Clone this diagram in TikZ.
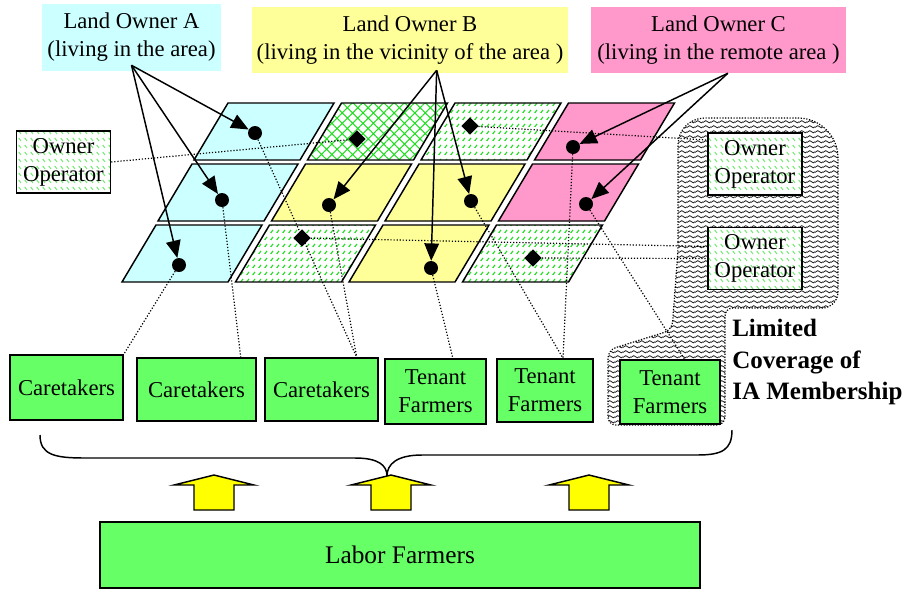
\documentclass[tikz,border=0pt]{standalone}
\usepackage{fontspec}
\setmainfont{Liberation Serif}
\usetikzlibrary{arrows.meta,shapes.geometric,patterns.meta}

\definecolor{areacyan}{HTML}{CCFFFF}
\definecolor{areayellow}{HTML}{FFFF99}
\definecolor{areapink}{HTML}{FF99CC}
\definecolor{farmgreen}{HTML}{66FF66}
\definecolor{hatchgreen}{HTML}{22DD22}
\definecolor{arrowyellow}{HTML}{FFFF00}

% short green dashes in rows
\tikzdeclarepattern{name=dashrows, type=colored,
  bounding box={(0pt,0pt) and (4.5pt,5.25pt)}, tile size={(4.5pt,5.25pt)},
  code={\draw[hatchgreen, line width=1pt] (0.6pt,0.9pt) -- (2.6pt,3.4pt);}}
\tikzdeclarepattern{name=dashrowsb, type=colored,
  bounding box={(0pt,0pt) and (4.5pt,5.25pt)}, tile size={(4.5pt,5.25pt)},
  code={\draw[hatchgreen!60, line width=0.9pt] (0.6pt,3.4pt) -- (2.6pt,0.9pt);}}
% wavy lines for the membership zone
\tikzdeclarepattern{name=wavy, type=colored,
  bounding box={(0pt,0pt) and (6pt,3.9pt)}, tile size={(6pt,3.9pt)},
  code={\draw[black!85, line width=0.7pt] (0pt,1.95pt) sin (1.5pt,2.85pt) cos (3pt,1.95pt) sin (4.5pt,1.05pt) cos (6pt,1.95pt);}}

\begin{document}
\begin{tikzpicture}
        [x=0.75pt, y=-0.75pt,
         field/.style={line width=1.1pt, line join=miter},
         fieldcyan/.style={field, fill=areacyan},
         fieldyellow/.style={field, fill=areayellow},
         fieldpink/.style={field, fill=areapink},
         fieldhatch/.style={field, pattern=dashrows},
         fieldcross/.style={field, pattern={Hatch[angle=45,distance=5.5pt,line width=0.8pt]}, pattern color=hatchgreen},
         tenanted/.style={circle, fill=black, minimum size=10.5pt, inner sep=0pt},
         selfrun/.style={diamond, fill=black, minimum size=13pt, inner sep=0pt},
         owner/.style={align=center, inner sep=0pt, font=\fontsize{17}{21}\selectfont},
         farmer/.style={draw=black, line width=1.1pt, fill=farmgreen, align=center, inner sep=0pt, font=\fontsize{17}{21}\selectfont},
         operator/.style={draw=black, line width=1.1pt, preaction={fill=white}, pattern=dashrowsb, minimum width=70.5pt, minimum height=46.5pt, align=center, inner sep=0pt, font=\fontsize{17}{21}\selectfont},
         owns/.style={-{Triangle[length=13pt,width=11pt]}, line width=1.1pt},
         link/.style={dash pattern=on 0.9pt off 1.4pt, line width=0.9pt},
         uparrow/.style={draw=black, line width=1.1pt, fill=arrowyellow, line join=miter},
         limitzone/.style={dash pattern=on 0.9pt off 1.2pt, line width=0.9pt, preaction={fill=white}, pattern=wavy}]
        \useasboundingbox (0,0) rectangle (910,590);

        % zone of limited IA membership
        \draw[limitzone] (678,250) [rounded corners=20pt] -- (678,118) [rounded corners=30pt] -- (838,118)
            [rounded corners=12pt] -- (838,308) [rounded corners=6pt] -- (725,308) -- (725,425) -- (608,425)
            -- (608,350) -- (672,330) -- cycle;

        % the fields, 3 rows x 4 columns
        \foreach \r/\c/\look in {0/0/fieldcyan, 0/1/fieldcross, 0/2/fieldhatch, 0/3/fieldpink,
                                 1/0/fieldcyan, 1/1/fieldyellow, 1/2/fieldyellow, 1/3/fieldpink,
                                 2/0/fieldcyan, 2/1/fieldhatch, 2/2/fieldyellow, 2/3/fieldhatch}
            \draw[\look] ({122+36*(2-\r)+113.5*\c}, {282-61*(2-\r)}) -- ++(106,0) -- ++(34,-57) -- ++(-106,0) -- cycle;

        \node[tenanted] (a1) at (255,133) {};
        \node[tenanted] (a2) at (222,200) {};
        \node[tenanted] (a3) at (179,265) {};
        \node[selfrun] (b1) at (357,139) {};
        \node[tenanted] (b2) at (329,205) {};
        \node[selfrun] (b3) at (302,238) {};
        \node[selfrun] (c1) at (470,126) {};
        \node[tenanted] (c2) at (471,201) {};
        \node[tenanted] (c3) at (431,268) {};
        \node[tenanted] (d1) at (573,147) {};
        \node[tenanted] (d2) at (586,204) {};
        \node[selfrun] (d3) at (533,258) {};

        % land owners
        \node[owner, fill=areacyan, minimum width=134.25pt, minimum height=50.25pt] (ownA) at (131.5,37.5) {Land Owner A\\(living in the area)};
        \node[owner, fill=areayellow, minimum width=237pt, minimum height=49.5pt] (ownB) at (410,40) {Land Owner B\\(living in the vicinity of the area )};
        \node[owner, fill=areapink, minimum width=191.25pt, minimum height=49.5pt] (ownC) at (718.5,40) {Land Owner C\\(living in the remote area )};

        \coordinate (fromA) at ([yshift=4.5pt]ownA.south);
        \coordinate (fromB) at ([xshift=20pt,yshift=2.25pt]ownB.south);
        \coordinate (fromC) at ([xshift=7pt]ownC.south);
        \foreach \t in {a1,a2,a3} \draw[owns] (fromA) -- (\t);
        \foreach \t in {b2,c3,c2} \draw[owns] (fromB) -- (\t);
        \foreach \t in {d1,d2} \draw[owns] (fromC) -- (\t);

        % farmers
        \node[operator] (opL) at (63.5,162) {Owner\\Operator};
        \node[operator] (opR1) at (755,164) {Owner\\Operator};
        \node[operator] (opR2) at (755,258.5) {Owner\\Operator};
        \node[farmer, minimum width=84.75pt, minimum height=48.75pt] (care1) at (66.5,387.5) {Caretakers};
        \node[farmer, minimum width=89.25pt, minimum height=47.25pt] (care2) at (196.5,389.5) {Caretakers};
        \node[farmer, minimum width=84.75pt, minimum height=47.25pt] (care3) at (321.5,389.5) {Caretakers};
        \node[farmer, minimum width=75.75pt, minimum height=48.75pt] (ten1) at (435.5,391.5) {Tenant\\Farmers};
        \node[farmer, minimum width=72pt, minimum height=47.25pt] (ten2) at (545,390.5) {Tenant\\Farmers};
        \node[farmer, minimum width=75pt, minimum height=48pt] (ten3) at (670,392) {Tenant\\Farmers};
        \node[farmer, minimum width=450pt, minimum height=49.5pt, font=\fontsize{19}{23}\selectfont] (labor) at (400,555) {Labor Farmers};
        \node[anchor=west, align=left, inner sep=0pt, font=\bfseries\fontsize{18.75}{23.6}\selectfont] (limit) at (732,362) {Limited\\Coverage of\\IA Membership};

        % who works which field
        \draw[link] (opL.east) -- (b1);
        \draw[link] (c1) -- ([yshift=18pt]opR1.west);
        \draw[link] (b3) -- ([yshift=9pt]opR2.west);
        \draw[link] (d3) -- (opR2.west);
        \draw[link] (a3) -- (care1.north east);
        \draw[link] (a2) -- ([xshift=-12pt]care2.north east);
        \draw[link] (a1) -- ([xshift=-16.5pt]care3.north east);
        \draw[link] (b2) -- ([xshift=-16.5pt]care3.north east);
        \draw[link] (c3) -- ([xshift=13pt]ten1.north);
        \draw[link] (c2) -- ([xshift=13.5pt]ten2.north);
        \draw[link] (d1) -- ([xshift=13.5pt]ten2.north);
        \draw[link] (d2) -- ([xshift=11pt]ten3.north);

        % brace and supply arrows
        \draw[line width=1.1pt] (40,435) .. controls (40,455) and (55,458) .. (85,458) -- (355,458)
            .. controls (378,458) and (387,465) .. (387,476) .. controls (387,464) and (397,455) .. (422,455)
            -- (697,455) .. controls (722,455) and (732,450) .. (732,430);
        \foreach \x in {214,391,589}
            \draw[uparrow] (\x-20,510) -- (\x+20,510) -- (\x+20,485) -- (\x+40,485) -- (\x,475) -- (\x-40,485) -- (\x-20,485) -- cycle;
    \end{tikzpicture}
\end{document}
